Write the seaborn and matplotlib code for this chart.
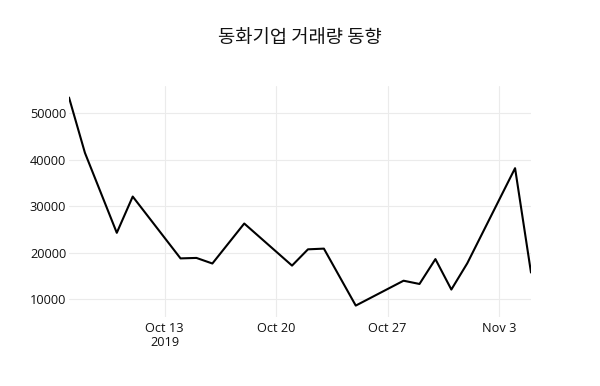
import matplotlib
matplotlib.use("Agg")
import matplotlib.pyplot as plt
import seaborn as sns
import pandas as pd

dates = ["2019-10-07", "2019-10-08", "2019-10-10", "2019-10-11", "2019-10-14",
         "2019-10-15", "2019-10-16", "2019-10-18", "2019-10-21", "2019-10-22",
         "2019-10-23", "2019-10-25", "2019-10-28", "2019-10-29", "2019-10-30",
         "2019-10-31", "2019-11-01", "2019-11-04", "2019-11-05"]
volume = [53400, 41500, 24300, 32100, 18800,
          18900, 17700, 26300, 17250, 20750,
          20900, 8650, 14000, 13300, 18650,
          12100, 17750, 38200, 15750]
tick_dates = ["2019-10-13", "2019-10-20", "2019-10-27", "2019-11-03"]
tick_labels = ["Oct 13\n2019", "Oct 20", "Oct 27", "Nov 3"]
y_ticks = [10000, 20000, 30000, 40000, 50000]
title = "동화기업 거래량 동향"

df = pd.DataFrame({"date": pd.to_datetime(dates), "volume": volume})

sns.set_theme(style="white")
plt.rcParams['font.family'] = ['Open Sans', 'Noto Sans CJK KR', 'DejaVu Sans']

fig = plt.figure(figsize=(6, 3.86), dpi=100)
ax = fig.add_axes([69/600, 1 - 317.4/386, 462/600, (317.4 - 85.7)/386])

sns.lineplot(data=df, x="date", y="volume", ax=ax, color="black", linewidth=1.5)

ax.set_xlim(df["date"].min(), df["date"].max())
ax.set_ylim(6110, 55940)
ax.set_xticks(pd.to_datetime(tick_dates))
ax.set_xticklabels(tick_labels)
ax.set_yticks(y_ticks)
ax.set_yticklabels([str(v) for v in y_ticks])
ax.grid(True, color="#ebebeb", linewidth=0.8)
ax.set_axisbelow(True)
for s in ax.spines.values():
    s.set_visible(False)
ax.tick_params(axis="both", length=0, labelsize=9.2, colors="#111111")
ax.tick_params(axis="y", pad=2)
ax.tick_params(axis="x", pad=3)
ax.set_xlabel("")
ax.set_ylabel("")
for lbl in ax.get_xticklabels():
    lbl.set_linespacing(1.1)

fig.text(0.5, 1 - 37/386, title, ha="center", va="center", fontsize=13.5,
         color="#111111", family=['Noto Sans CJK KR', 'DejaVu Sans'])

fig.savefig("out.png", dpi=100)
